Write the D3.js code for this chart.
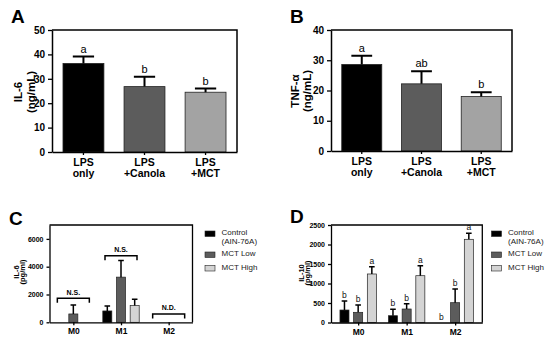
<!DOCTYPE html>
<html>
<head>
<meta charset="utf-8">
<script src="https://cdn.jsdelivr.net/npm/d3@7"></script>
<style>
body { margin: 0; background: #fff; }
svg { font-family: "Liberation Sans", Arial, sans-serif; }
</style>
</head>
<body>
<div id="chart"></div>
<script>
// ---- panels A and B: LPS treatments ----
var treatments = [["LPS", "only"], ["LPS", "+Canola"], ["LPS", "+MCT"]];
var il6Mean = [36.3, 26.8, 24.5];
var il6Sem = [2.8, 4.0, 1.5];
var il6Letters = ["a", "b", "b"];
var il6Ticks = [0, 10, 20, 30, 40, 50];
var tnfMean = [28.6, 22.2, 18.0];
var tnfSem = [2.9, 4.2, 1.4];
var tnfLetters = ["a", "ab", "b"];
var tnfTicks = [0, 10, 20, 30, 40];

// ---- panels C and D: macrophage stages ----
var stages = ["M0", "M1", "M2"];
var diets = ["Control", "MCT Low", "MCT High"];
var dietLegend = [["Control", "(AIN-76A)"], ["MCT Low"], ["MCT High"]];

var il6pgControl = [0, 816, 0];
var il6pgControlSem = [0, 360, 0];
var il6pgLow = [600, 3250, 0];
var il6pgLowSem = [650, 1200, 0];
var il6pgHigh = [0, 1200, 0];
var il6pgHighSem = [0, 460, 0];
var il6pgTicks = [0, 2000, 4000, 6000];
var il6pgBrackets = [["N.S.", 1730], ["N.S.", 4790], ["N.D.", 600]];

var il10Control = [320, 174, 0];
var il10ControlSem = [231, 164, 0];
var il10Low = [261, 346, 508];
var il10LowSem = [188, 136, 351];
var il10High = [1244, 1200, 2133];
var il10HighSem = [187, 256, 154];
var il10Ticks = [0, 500, 1000, 1500, 2000, 2500];
var il10Letters = [["b", "b", "b"], ["b", "b", "b"], ["a", "a", "a"]];

var abFill = ["#000000", "#5c5c5c", "#a3a3a3"];
var cdFill = ["#000000", "#5c5c5c", "#d4d4d4"];

var svg = d3.select("#chart").append("svg")
  .attr("width", 550)
  .attr("height", 341);

function styleAxis(g, size) {
  g.select(".domain").attr("stroke-width", 1.5);
  g.selectAll(".tick line").attr("stroke-width", 1.3);
  g.selectAll(".tick text")
    .attr("font-family", "Liberation Sans, Arial, sans-serif")
    .attr("font-weight", "bold")
    .attr("font-size", size)
    .attr("fill", "#000");
}

function yTitle(lines, xs, cy, size) {
  lines.forEach(function (t, i) {
    svg.append("text")
      .attr("transform", "translate(" + xs[i] + "," + cy + ") rotate(-90)")
      .attr("text-anchor", "middle")
      .attr("font-weight", "bold")
      .attr("font-size", size)
      .text(t);
  });
}

function panelLetter(t, x, y) {
  svg.append("text").attr("x", x).attr("y", y)
    .attr("font-weight", "bold").attr("font-size", 19).text(t);
}

// single bar panel (A, B)
function barPanel(c) {
  var x = d3.scaleBand().domain(d3.range(treatments.length))
    .range([c.x0, c.x1]).paddingInner(0.33).paddingOuter(0.18);
  var y = d3.scaleLinear().domain([0, c.max]).range([c.y1, c.y0]);

  svg.append("g").selectAll("rect").data(c.mean).enter().append("rect")
    .attr("x", function (d, i) { return x(i); })
    .attr("y", function (d) { return y(d); })
    .attr("width", x.bandwidth())
    .attr("height", function (d) { return y(0) - y(d); })
    .attr("fill", function (d, i) { return abFill[i]; })
    .attr("stroke", "#222").attr("stroke-width", 0.8);

  // error bars, upper whisker only
  var cap = x.bandwidth() * 0.26;
  svg.append("g").selectAll("path").data(c.mean).enter().append("path")
    .attr("d", function (d, i) {
      var cx = x(i) + x.bandwidth() / 2, top = y(d + c.sem[i]);
      return "M" + cx + "," + y(d) + "V" + top + "M" + (cx - cap) + "," + top + "H" + (cx + cap);
    })
    .attr("stroke", "#000").attr("stroke-width", 2).attr("fill", "none");

  svg.append("g").selectAll("text").data(c.letters).enter().append("text")
    .attr("x", function (d, i) { return x(i) + x.bandwidth() / 2; })
    .attr("y", function (d, i) { return y(c.mean[i] + c.sem[i]) - 4; })
    .attr("text-anchor", "middle").attr("font-size", 11)
    .text(function (d) { return d; });

  // frame top/right
  svg.append("path")
    .attr("d", "M" + c.x0 + "," + c.y0 + "H" + c.x1 + "V" + c.y1)
    .attr("stroke", "#000").attr("stroke-width", 1.5).attr("fill", "none");

  var ya = svg.append("g").attr("transform", "translate(" + c.x0 + ",0)")
    .call(d3.axisLeft(y).tickValues(c.ticks).tickSize(4).tickSizeOuter(0));
  styleAxis(ya, 10);

  var xa = svg.append("g").attr("transform", "translate(0," + c.y1 + ")")
    .call(d3.axisBottom(x).tickSize(3).tickSizeOuter(0).tickFormat(""));
  styleAxis(xa, 10);

  svg.append("g").selectAll("text").data(treatments).enter().append("text")
    .attr("x", function (d, i) { return x(i) + x.bandwidth() / 2; })
    .attr("y", c.y1 + 14)
    .attr("text-anchor", "middle").attr("font-weight", "bold").attr("font-size", 10.5)
    .each(function (d) {
      var t = d3.select(this);
      t.append("tspan").attr("x", t.attr("x")).attr("dy", 0).text(d[0]);
      t.append("tspan").attr("x", t.attr("x")).attr("dy", 10.5).text(d[1]);
    });
}

// grouped bar panel (C, D)
function groupPanel(c) {
  var x = d3.scalePoint().domain(stages).range([c.x0, c.x1]).padding(c.pad);
  var xi = d3.scaleBand().domain(diets).range([-18.2, 18.2]).paddingInner(0.34);
  var y = d3.scaleLinear().domain([0, c.max]).range([c.y1, c.y0]);

  c.series.forEach(function (s, k) {
    var g = svg.append("g");
    var rows = s.mean.map(function (v, i) {
      return { stage: stages[i], v: v, e: s.sem[i], letter: c.letters ? c.letters[k][i] : null };
    });
    var cxOf = function (d) { return x(d.stage) + xi(diets[k]) + xi.bandwidth() / 2; };

    g.selectAll("rect").data(rows.filter(function (d) { return d.v > 0; })).enter().append("rect")
      .attr("x", function (d) { return x(d.stage) + xi(diets[k]); })
      .attr("y", function (d) { return y(d.v); })
      .attr("width", xi.bandwidth())
      .attr("height", function (d) { return y(0) - y(d.v); })
      .attr("fill", cdFill[k]).attr("stroke", "#222").attr("stroke-width", 0.7);

    g.selectAll("path").data(rows.filter(function (d) { return d.e > 0; })).enter().append("path")
      .attr("d", function (d) {
        var cx = cxOf(d), top = y(d.v + d.e);
        return "M" + cx + "," + y(d.v) + "V" + top + "M" + (cx - 2.8) + "," + top + "H" + (cx + 2.8);
      })
      .attr("stroke", "#000").attr("stroke-width", 1.5).attr("fill", "none");

    if (c.letters) {
      g.selectAll("text").data(rows).enter().append("text")
        .attr("x", cxOf)
        .attr("y", function (d) { return y(d.v + d.e) - 3; })
        .attr("text-anchor", "middle").attr("font-size", 8.5).attr("fill", "#111")
        .text(function (d) { return d.letter; });
    }
  });

  if (c.brackets) {
    c.brackets.forEach(function (b, i) {
      var cx = x(stages[i]), yb = y(b[1]);
      svg.append("path")
        .attr("d", "M" + (cx - 16) + "," + (yb + 4.5) + "V" + yb + "H" + (cx + 16) + "V" + (yb + 4.5))
        .attr("stroke", "#000").attr("stroke-width", 1.5).attr("fill", "none");
      svg.append("text").attr("x", cx).attr("y", yb - 3.5)
        .attr("text-anchor", "middle").attr("font-weight", "bold").attr("font-size", 7)
        .text(b[0]);
    });
  }

  svg.append("path")
    .attr("d", "M" + c.x0 + "," + c.y0 + "H" + c.x1 + "V" + c.y1)
    .attr("stroke", "#000").attr("stroke-width", 1.3).attr("fill", "none");

  var ya = svg.append("g").attr("transform", "translate(" + c.x0 + ",0)")
    .call(d3.axisLeft(y).tickValues(c.ticks).tickSize(3).tickSizeOuter(0).tickFormat(d3.format("d")));
  styleAxis(ya, 7);
  ya.select(".domain").attr("stroke-width", 1.3);

  var xa = svg.append("g").attr("transform", "translate(0," + c.y1 + ")")
    .call(d3.axisBottom(x).tickSize(3).tickSizeOuter(0).tickPadding(3));
  styleAxis(xa, 8.5);
  xa.select(".domain").attr("stroke-width", 1.3);

  // legend
  var ly = [231, 252, 265.5];
  dietLegend.forEach(function (lines, k) {
    svg.append("rect").attr("x", c.lx).attr("y", ly[k]).attr("width", 10).attr("height", 5.5)
      .attr("fill", cdFill[k]).attr("stroke", "#222").attr("stroke-width", 0.6);
    lines.forEach(function (t, j) {
      svg.append("text").attr("x", c.lx + 16.5).attr("y", ly[k] + 4 + j * 9.2)
        .attr("font-size", 8).attr("fill", "#222").text(t);
    });
  });
}

barPanel({ x0: 52, x1: 237, y0: 30, y1: 152, max: 50, ticks: il6Ticks,
  mean: il6Mean, sem: il6Sem, letters: il6Letters });
barPanel({ x0: 331, x1: 512, y0: 30, y1: 151, max: 40, ticks: tnfTicks,
  mean: tnfMean, sem: tnfSem, letters: tnfLetters });

groupPanel({ x0: 49.5, x1: 192.5, y0: 225, y1: 322.3, max: 7000, pad: 0.5, ticks: il6pgTicks,
  series: [{ mean: il6pgControl, sem: il6pgControlSem }, { mean: il6pgLow, sem: il6pgLowSem }, { mean: il6pgHigh, sem: il6pgHighSem }],
  brackets: il6pgBrackets, lx: 205 });
groupPanel({ x0: 331, x1: 482.3, y0: 225, y1: 322.5, max: 2500, pad: 0.56, ticks: il10Ticks,
  series: [{ mean: il10Control, sem: il10ControlSem }, { mean: il10Low, sem: il10LowSem }, { mean: il10High, sem: il10HighSem }],
  letters: il10Letters, lx: 491.5 });

yTitle(["IL-6", "(ng/mL)"], [21.5, 34.5], 92, 11.5);
yTitle(["TNF-\u03b1", "(ng/mL)"], [298.5, 310.5], 91, 11.5);
yTitle(["IL-6", "(pg/ml)"], [18.5, 25], 272, 7.5);
yTitle(["IL-10", "(pg/ml)"], [303.5, 310], 273, 7.5);

panelLetter("A", 11, 23);
panelLetter("B", 290, 23);
panelLetter("C", 9, 225);
panelLetter("D", 290, 223);
</script>
</body>
</html>
